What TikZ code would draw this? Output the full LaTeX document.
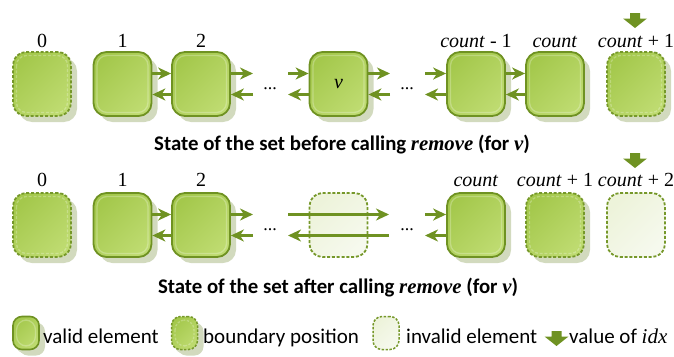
\documentclass[tikz,border=0pt]{standalone}
\usepackage{fontspec}
\setmainfont{Liberation Serif}
\newfontfamily\capfont{Carlito}
\usetikzlibrary{arrows.meta,shadows}

\definecolor{edgec}{HTML}{6F9222}
\definecolor{dashc}{HTML}{76982A}
\definecolor{fillA}{HTML}{A4C84C}
\definecolor{fillB}{HTML}{BEDB70}
\definecolor{shadc}{HTML}{D2DABE}
\definecolor{invA}{HTML}{EDF3DA}
\definecolor{invB}{HTML}{F6F9EE}

\begin{document}
\begin{tikzpicture}[x=1pt,y=-1pt,
  base/.style={rectangle, rounded corners=13pt, minimum width=58pt, minimum height=64pt, inner sep=0pt},
  hilite/.style={path picture={\draw[white, draw opacity=0.25, line width=1.3pt, rounded corners=10pt]
      ([shift={(3.5pt,-3.5pt)}]path picture bounding box.north west) rectangle
      ([shift={(-3.5pt,3.5pt)}]path picture bounding box.south east);}},
  green/.style={top color=fillA, bottom color=fillB, shading angle=45, hilite},
  elem/.style={base, green, draw=edgec, line width=1.8pt,
    drop shadow={shadow xshift=6pt, shadow yshift=-6pt, fill=shadc, opacity=1}},
  bound/.style={base, green, draw=dashc, line width=1.8pt,
    dash pattern=on 3pt off 1.8pt,
    drop shadow={shadow xshift=6pt, shadow yshift=-6pt, fill=shadc, opacity=1}},
  inval/.style={base, top color=invA, bottom color=invB, shading angle=45, draw=dashc, line width=1.8pt,
    dash pattern=on 3pt off 1.8pt},
  small/.style={minimum width=26pt, minimum height=33pt, rounded corners=9pt},
  smallsh/.style={drop shadow={shadow xshift=3pt, shadow yshift=-4pt, fill=shadc, opacity=1}},
  lab/.style={anchor=base, font=\fontsize{20}{24}\selectfont, inner sep=0pt},
  dots/.style={font=\fontsize{18}{22}\selectfont, inner sep=0pt},
  captext/.style={anchor=base, font=\capfont\bfseries\fontsize{20.8}{24}\selectfont, inner sep=0pt},
  leg/.style={anchor=base west, font=\capfont\fontsize{21}{24}\selectfont, inner sep=0pt},
  conn/.style={draw=edgec, line width=2.2pt, -{Stealth[length=13pt,width=12pt,inset=4pt]}},
  idxarrow/.pic={\fill[edgec] (-5,0) -- (5,0) -- (5,5.5) -- (12,5.5) -- (0,15) -- (-12,5.5) -- (-5,5.5) -- cycle;}
]
\useasboundingbox (0,0) rectangle (674,356);

% ---------- row 1 ----------
\node[bound] (a0) at (42,84) {};
\node[elem] (a1) at (122.5,84) {};
\node[elem] (a2) at (201,84) {};
\node[elem, font=\fontsize{20}{24}\selectfont\itshape] (av) at (338.5,84) {v};
\node[elem] (ac1) at (476,84) {};
\node[elem] (ac) at (555,84) {};
\node[bound] (ac2) at (636,84) {};

\node[lab] (la0) at (42,47) {0};
\node[lab] (la1) at (122.5,47) {1};
\node[lab] (la2) at (201,47) {2};
\node[lab] (lac1) at (476,47) {\textit{count} - 1};
\node[lab] (lac) at (555,47) {\textit{count}};
\node[lab] (lac2) at (636,47) {\textit{count} + 1};
\pic at (635,13) {idxarrow};

\coordinate (g1l) at (253,84);
\coordinate (g1r) at (288,84);
\coordinate (g2l) at (390,84);
\coordinate (g2r) at (425,84);
\node[dots] (d1) at (270,89) {...};
\node[dots] (d2) at (407,89) {...};

\draw[conn] ([yshift=10.5pt]a1.east) -- ([yshift=10.5pt]a2.west);
\draw[conn] ([yshift=-10.5pt]a2.west) -- ([yshift=-10.5pt]a1.east);
\draw[conn] ([yshift=10.5pt]a2.east) -- ([yshift=10.5pt]g1l);
\draw[conn] ([yshift=-10.5pt]g1l) -- ([yshift=-10.5pt]a2.east);
\draw[conn] ([yshift=10.5pt]g1r) -- ([yshift=10.5pt]av.west);
\draw[conn] ([yshift=-10.5pt]av.west) -- ([yshift=-10.5pt]g1r);
\draw[conn] ([yshift=10.5pt]av.east) -- ([yshift=10.5pt]g2l);
\draw[conn] ([yshift=-10.5pt]g2l) -- ([yshift=-10.5pt]av.east);
\draw[conn] ([yshift=10.5pt]g2r) -- ([yshift=10.5pt]ac1.west);
\draw[conn] ([yshift=-10.5pt]ac1.west) -- ([yshift=-10.5pt]g2r);
\draw[conn] ([yshift=10.5pt]ac1.east) -- ([yshift=10.5pt]ac.west);
\draw[conn] ([yshift=-10.5pt]ac.west) -- ([yshift=-10.5pt]ac1.east);

\node[captext] (cap1) at (342,150) {State of the set before calling {\rmfamily\itshape remove} (for {\rmfamily\itshape v})};

% ---------- row 2 ----------
\node[bound] (b0) at (42,225) {};
\node[elem] (b1) at (122.5,225) {};
\node[elem] (b2) at (201,225) {};
\node[inval] (bv) at (338.5,225) {};
\node[elem] (bc) at (476,225) {};
\node[bound] (bc1) at (555,225) {};
\node[inval] (bc2) at (636,225) {};

\node[lab] (lb0) at (42,186) {0};
\node[lab] (lb1) at (122.5,186) {1};
\node[lab] (lb2) at (201,186) {2};
\node[lab] (lbc) at (476,186) {\textit{count}};
\node[lab] (lbc1) at (555,186) {\textit{count} + 1};
\node[lab] (lbc2) at (636,186) {\textit{count} + 2};
\pic at (635,153) {idxarrow};

\coordinate (h1l) at (253,225);
\coordinate (h1r) at (288,225);
\coordinate (h2l) at (389,225);
\coordinate (h2r) at (425,225);
\node[dots] (e1) at (270,230) {...};
\node[dots] (e2) at (407,230) {...};

\draw[conn] ([yshift=10.5pt]b1.east) -- ([yshift=10.5pt]b2.west);
\draw[conn] ([yshift=-10.5pt]b2.west) -- ([yshift=-10.5pt]b1.east);
\draw[conn] ([yshift=10.5pt]b2.east) -- ([yshift=10.5pt]h1l);
\draw[conn] ([yshift=-10.5pt]h1l) -- ([yshift=-10.5pt]b2.east);
\draw[conn] ([yshift=10.5pt]h1r) -- ([yshift=10.5pt]h2l);
\draw[conn] ([yshift=-10.5pt]h2l) -- ([yshift=-10.5pt]h1r);
\draw[conn] ([yshift=10.5pt]h2r) -- ([yshift=10.5pt]bc.west);
\draw[conn] ([yshift=-10.5pt]bc.west) -- ([yshift=-10.5pt]h2r);

\node[captext] (cap2) at (338,293) {State of the set after calling {\rmfamily\itshape remove} (for {\rmfamily\itshape v})};

% ---------- legend ----------
\node[elem, small, smallsh, line width=1.6pt] (k1) at (26,333) {};
\node[leg] (t1) at (43,343) {valid element};
\node[bound, small, smallsh, line width=1.5pt, dash pattern=on 2.4pt off 1.5pt] (k2) at (184.5,333) {};
\node[leg] (t2) at (203,343) {boundary position};
\node[inval, small, line width=1.5pt, dash pattern=on 2.4pt off 1.5pt] (k3) at (386,333) {};
\node[leg] (t3) at (406,343) {invalid element};
\pic at (556.5,331) {idxarrow};
\node[leg] (t4) at (569,343) {value of {\rmfamily\itshape idx}};
\end{tikzpicture}
\end{document}
